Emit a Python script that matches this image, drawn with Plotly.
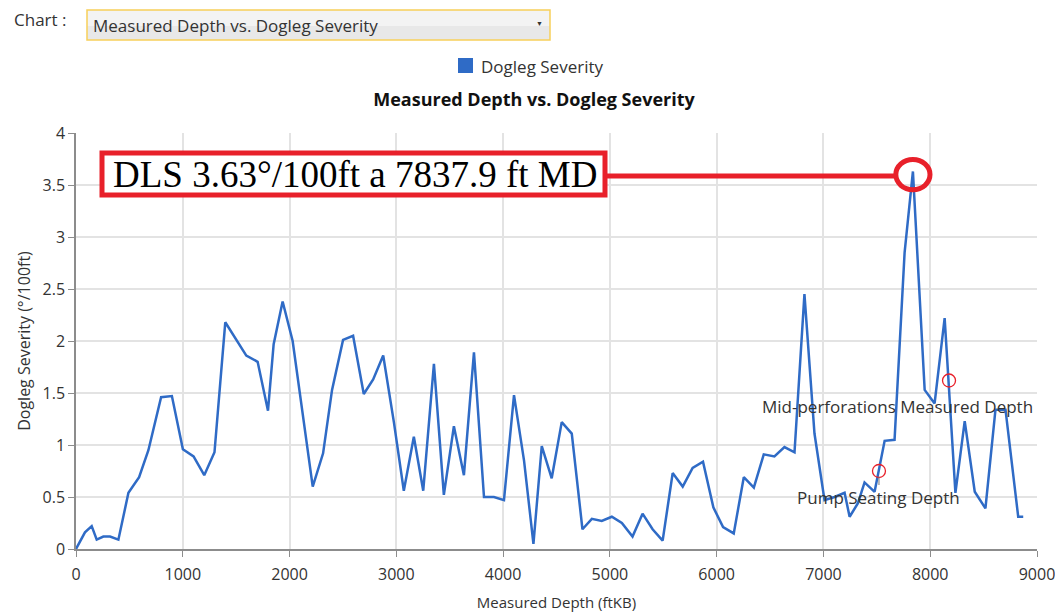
"""Measured depth vs. dogleg severity chart using Plotly."""

import plotly.graph_objects as go

# survey stations (ft MD) and dogleg severity (deg/100ft)
depth = [
    0, 84, 147, 194, 256, 319, 397, 491, 591, 678, 797, 898, 1001, 1101, 1201,
    1297, 1398, 1491, 1595, 1701, 1798, 1851, 1935, 2029, 2123, 2217, 2314,
    2398, 2501, 2595, 2695, 2783, 2877, 2977, 3070, 3164, 3252, 3352, 3445,
    3539, 3633, 3727, 3821, 3914, 4008, 4102, 4196, 4284, 4362, 4455, 4549,
    4643, 4743, 4831, 4924, 5018, 5112, 5212, 5306, 5400, 5494, 5588, 5682,
    5775, 5872, 5969, 6060, 6160, 6254, 6348, 6441, 6541, 6635, 6729, 6822,
    6916, 7010, 7104, 7198, 7245, 7323, 7385, 7479, 7573, 7666, 7760, 7838,
    7948, 8041, 8135, 8236, 8323, 8417, 8517, 8611, 8705, 8824, 8871,
]
dls = [
    0, 0.16, 0.22, 0.09, 0.12, 0.12, 0.09, 0.54, 0.69, 0.95, 1.46, 1.47, 0.96,
    0.89, 0.71, 0.93, 2.18, 2.03, 1.86, 1.80, 1.33, 1.97, 2.38, 2.00, 1.30,
    0.60, 0.92, 1.53, 2.01, 2.05, 1.49, 1.63, 1.86, 1.22, 0.56, 1.08, 0.56,
    1.78, 0.52, 1.18, 0.71, 1.89, 0.50, 0.50, 0.47, 1.48, 0.85, 0.05, 0.99,
    0.68, 1.22, 1.11, 0.19, 0.29, 0.27, 0.31, 0.25, 0.12, 0.34, 0.19, 0.08,
    0.73, 0.60, 0.78, 0.84, 0.40, 0.21, 0.15, 0.69, 0.59, 0.91, 0.89, 0.98,
    0.93, 2.45, 1.11, 0.47, 0.50, 0.54, 0.31, 0.44, 0.64, 0.55, 1.04, 1.05,
    2.85, 3.63, 1.53, 1.40, 2.22, 0.54, 1.23, 0.55, 0.39, 1.34, 1.34, 0.31,
    0.31,
]

# reference markers and where their labels sit (label centre, ft MD)
marker_names = ['Pump Seating Depth', 'Mid-perforations Measured Depth']
marker_depth = [7520, 8176]
marker_dls = [0.75, 1.62]
label_depth = [7520, 7695]

max_depth = 7837.9
max_dls = 3.63

BLUE = '#2f6bc6'
RED = '#e8202a'
TEXT = '#333333'
FONT = 'Open Sans, Noto Sans, sans-serif'

# page is 1063 x 613, the body adds an 8px margin around the figure
OFF = 8
W, H = 1063 - OFF, 613 - OFF
# plot area in page pixels
L, R, T, B = 76, 1037, 133, 549


def px_x(p):
    return (p - L) / (R - L)


def px_y(p):
    return (B - p) / (B - T)


def label(text, x, y, size, anchor='center', color=TEXT, family=FONT):
    fig.add_annotation(
        x=px_x(x), y=px_y(y), xref='paper', yref='paper',
        text=text, showarrow=False,
        xanchor=anchor, yanchor='middle',
        font=dict(family=family, size=size, color=color),
    )


fig = go.Figure()

fig.add_trace(go.Scatter(
    x=depth,
    y=dls,
    mode='lines',
    name='Dogleg Severity',
    line=dict(color=BLUE, width=2.5),
    showlegend=False,
    hovertemplate='MD: %{x} ft<br>DLS: %{y:.2f}°/100ft<extra></extra>',
))

fig.add_trace(go.Scatter(
    x=marker_depth,
    y=marker_dls,
    mode='markers',
    marker=dict(symbol='circle-open', size=13, color=RED, line=dict(width=1.3)),
    showlegend=False,
    hovertext=marker_names,
    hoverinfo='text',
))

for name, x, y in zip(marker_names, label_depth, marker_dls):
    fig.add_annotation(
        x=x, y=y, xref='x', yref='y',
        text=name, showarrow=False, yshift=-26,
        font=dict(family=FONT, size=17, color=TEXT),
        xanchor='center', yanchor='middle',
    )

# little leader tick under the pump seating marker
fig.add_shape(
    type='line', xref='x', yref='paper',
    x0=marker_depth[0], x1=marker_depth[0], y0=px_y(485), y1=px_y(477),
    line=dict(color='#777777', width=1),
)

# call-out for the max DLS
fig.add_shape(
    type='circle', xref='x', yref='y',
    x0=max_depth - 160, x1=max_depth + 160,
    y0=max_dls - 0.175, y1=max_dls + 0.115,
    line=dict(color=RED, width=5), layer='above',
)
fig.add_shape(
    type='line', xref='paper', yref='paper',
    x0=px_x(606), x1=px_x(896), y0=px_y(176), y1=px_y(176),
    line=dict(color=RED, width=5), layer='above',
)
fig.add_shape(
    type='rect', xref='paper', yref='paper',
    x0=px_x(102), x1=px_x(605), y0=px_y(195), y1=px_y(153),
    line=dict(color=RED, width=5), fillcolor='white', layer='above',
)
label(f'DLS {max_dls:.2f}°/100ft a {max_depth:.1f} ft MD', 355, 174, 37,
      color='black', family='Liberation Serif, Times New Roman, serif')

# chart selector above the plot
fig.add_shape(
    type='rect', xref='paper', yref='paper',
    x0=px_x(87), x1=px_x(550), y0=px_y(40), y1=px_y(10),
    line=dict(width=0), fillcolor='#f3f3f3',
)
fig.add_shape(
    type='rect', xref='paper', yref='paper',
    x0=px_x(87), x1=px_x(550), y0=px_y(40), y1=px_y(26),
    line=dict(width=0), fillcolor='#e8e8e8',
)
fig.add_shape(
    type='rect', xref='paper', yref='paper',
    x0=px_x(87), x1=px_x(550), y0=px_y(40), y1=px_y(10),
    line=dict(color='#f7cf5a', width=1.5), fillcolor='rgba(0,0,0,0)',
)
label('Chart :', 12, 20, 17, anchor='left')
label('Measured Depth vs. Dogleg Severity', 91, 25, 17, anchor='left')
label('▼', 539, 24, 7)

# legend: square swatch and name
fig.add_shape(
    type='rect', xref='paper', yref='paper',
    x0=px_x(458), x1=px_x(473), y0=px_y(73), y1=px_y(58),
    line=dict(width=0), fillcolor=BLUE,
)
label('Dogleg Severity', 479, 66, 17, anchor='left')

fig.update_layout(
    width=W,
    height=H,
    margin=dict(l=L - OFF, r=1063 - R, t=T - OFF, b=613 - B, pad=0),
    paper_bgcolor='white',
    plot_bgcolor='white',
    font=dict(family=FONT, size=16, color=TEXT),
    title=dict(
        text='<b>Measured Depth vs. Dogleg Severity</b>',
        xref='paper', x=px_x(534), xanchor='center',
        yref='container', y=1 - (100 - OFF) / H, yanchor='middle',
        font=dict(family=FONT, size=18, color='#111111'),
    ),
    showlegend=False,
    xaxis=dict(
        range=[0, 9000],
        dtick=1000,
        automargin=False,
        title=dict(text='Measured Depth (ftKB)', font=dict(size=15), standoff=14),
        showline=True, linecolor='#8c8c8c', linewidth=1.5,
        ticks='outside', ticklen=6, tickcolor='#8c8c8c',
        ticklabelstandoff=4,
        showgrid=True, gridcolor='#e3e3e3', gridwidth=1.5,
        zeroline=False,
        tickfont=dict(size=16),
    ),
    yaxis=dict(
        range=[0, 4],
        dtick=0.5,
        automargin=False,
        title=dict(text='Dogleg Severity (°/100ft)', font=dict(size=16), standoff=8),
        showline=True, linecolor='#8c8c8c', linewidth=1.5,
        ticks='outside', ticklen=6, tickcolor='#8c8c8c',
        showgrid=True, gridcolor='#e3e3e3', gridwidth=1.5,
        zeroline=False,
        tickfont=dict(size=16),
    ),
)

fig.write_html("out.html")
